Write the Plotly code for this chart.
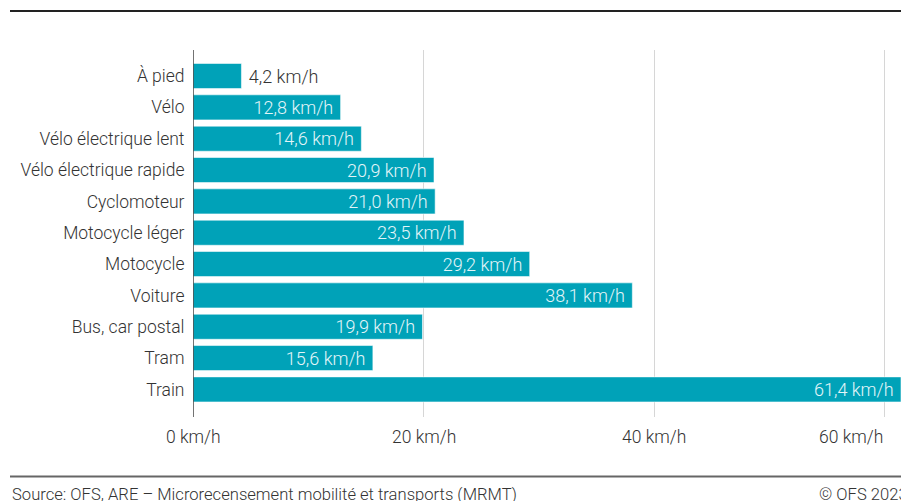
import plotly.graph_objects as go

categories = ["À pied", "Vélo", "Vélo électrique lent", "Vélo électrique rapide",
              "Cyclomoteur", "Motocycle léger", "Motocycle", "Voiture",
              "Bus, car postal", "Tram", "Train"]
speeds = [4.2, 12.8, 14.6, 20.9, 21.0, 23.5, 29.2, 38.1, 19.9, 15.6, 61.4]
labels = ["4,2 km/h", "12,8 km/h", "14,6 km/h", "20,9 km/h", "21,0 km/h", "23,5 km/h",
          "29,2 km/h", "38,1 km/h", "19,9 km/h", "15,6 km/h", "61,4 km/h"]
tick_values = [0, 20, 40, 60]
tick_labels = ["0 km/h", "20 km/h", "40 km/h", "60 km/h"]
source_text = "Source: OFS, ARE – Microrecensement mobilité et transports (MRMT)"
copyright_text = "© OFS 2023"

W, H = 901, 501
# plot area in page pixels (body margin removed via post_script)
PX0, PX1, PY0, PY1 = 193, 901, 50, 417
L = PX0
T = PY0
R = W - PX1
B = H - PY1
pw = PX1 - PX0
ph = PY1 - PY0

FONT = "Roboto"
BAR = "#00a2b8"
NB = "\u00a0"

positions = ["outside" if v < 8 else "inside" for v in speeds]
shown = [NB + t if p == "outside" else t + NB for t, p in zip(labels, positions)]

fig = go.Figure()
fig.add_trace(go.Bar(
    y=categories, x=speeds, orientation="h",
    marker=dict(color=BAR, line=dict(color="rgba(255,255,255,0.55)", width=1)),
    width=0.8,
    text=shown, textposition=positions, textangle=0,
    insidetextanchor="end",
    constraintext="none",
    insidetextfont=dict(family=FONT, size=18, color="#e3f5f8", weight=300),
    outsidetextfont=dict(family=FONT, size=18, color="#333333", weight=300),
    cliponaxis=False,
    hoverinfo="skip",
))

def px_x(p):
    return (p - PX0) / pw

def px_y(p):
    return (PY1 - p) / ph

annotations = []
for v, t in zip(tick_values, tick_labels):
    anchor = "right" if v == tick_values[-1] else "center"
    annotations.append(dict(x=v, xref="x", y=px_y(437), yref="paper", text=t,
                            showarrow=False, xanchor=anchor, yanchor="middle",
                            font=dict(family=FONT, size=17.5, color="#333333", weight=300)))
annotations.append(dict(x=px_x(10), xref="paper", y=px_y(494), yref="paper", text=source_text,
                        showarrow=False, xanchor="left", yanchor="middle",
                        font=dict(family=FONT, size=16.6, color="#333333", weight=300)))
annotations.append(dict(x=px_x(817), xref="paper", y=px_y(494), yref="paper", text=copyright_text,
                        showarrow=False, xanchor="left", yanchor="middle",
                        font=dict(family=FONT, size=16.6, color="#333333", weight=300)))

shapes = [
    dict(type="line", xref="paper", yref="paper", x0=px_x(10), x1=px_x(W + 10), y0=px_y(11), y1=px_y(11),
         line=dict(color="#222222", width=2)),
    dict(type="line", xref="paper", yref="paper", x0=px_x(10), x1=px_x(W + 10), y0=px_y(476.5), y1=px_y(476.5),
         line=dict(color="#666666", width=2)),
    dict(type="line", xref="x", yref="paper", x0=0, x1=0, y0=0, y1=1,
         line=dict(color="#444444", width=1.5)),
]

fig.update_layout(
    width=W, height=H,
    margin=dict(l=L, r=R, t=T, b=B),
    plot_bgcolor="white", paper_bgcolor="white",
    showlegend=False,
    font=dict(family=FONT, size=17.5, color="#333333", weight=300),
    xaxis=dict(range=[0, 61.4], tickvals=tick_values, showticklabels=False,
               showgrid=True, gridcolor="#d6d6d6", gridwidth=1, zeroline=False,
               showline=False, fixedrange=True),
    yaxis=dict(categoryorder="array", categoryarray=categories,
               range=[10.88, -0.83], showgrid=False, zeroline=False, showline=False,
               ticks="outside", ticklen=4, tickcolor="rgba(0,0,0,0)",
               tickfont=dict(family=FONT, size=17.5, color="#333333", weight=300), fixedrange=True),
    annotations=annotations,
    shapes=shapes,
)

fig.write_html("out.html",
               config={"displayModeBar": False, "staticPlot": True},
               post_script="document.body.style.margin='0';document.body.style.overflow='hidden';")
